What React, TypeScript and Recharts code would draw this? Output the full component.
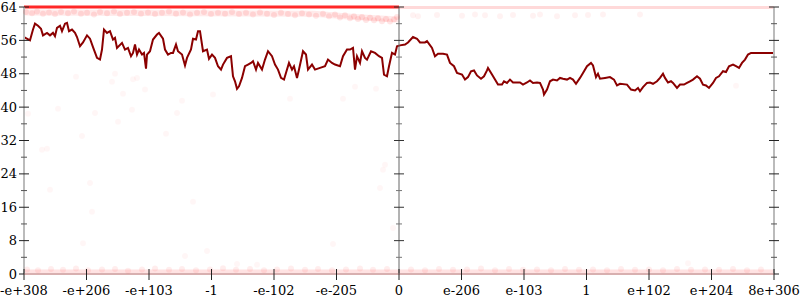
import React from 'react';
import { ComposedChart, Line, Scatter, XAxis, YAxis, ReferenceLine } from 'recharts';

// x positions are measured along the axis: 0 = -e+308, 375 = 0, 750 = 8e+306
const xLabels = ['-e+308', '-e+206', '-e+103', '-1', '-e-102', '-e-205', '0',
  'e-206', 'e-103', '1', 'e+102', 'e+204', '8e+306'];
const xTicks = xLabels.map((_, i) => i * 62.5);
const yLabelTicks = [0, 8, 16, 24, 32, 40, 48, 56, 64];
const yAllTicks = [0, 4, 8, 12, 16, 20, 24, 28, 32, 36, 40, 44, 48, 52, 56, 60, 64];

// moving average, negative half
const trendNeg: [number, number][] = [
  [0, 56.8], [6, 56.0], [9, 58.6], [11, 60.0], [14, 59.5], [17, 58.8], [19, 57.2], [23, 57.8],
  [26, 57.2], [29, 57.8], [31, 57.0], [33, 59.0], [36, 59.5], [38, 58.2], [41, 60.0], [43, 60.2],
  [45, 58.2], [48, 58.6], [51, 57.8], [53, 56.8], [56, 54.6], [59, 55.5], [63, 57.2], [66, 56.4],
  [69, 54.4], [73, 51.8], [76, 51.4], [78, 53.8], [80, 58.6], [83, 57.8], [86, 58.2], [89, 56.2],
  [91, 56.6], [93, 54.2], [98, 55.4], [101, 53.8], [104, 54.2], [107, 52.2], [109, 53.0], [111, 55.0],
  [113, 52.6], [115, 53.8], [118, 52.6], [120, 53.0], [122, 49.2], [123, 52.6], [126, 53.4], [129, 56.2],
  [133, 57.4], [135, 57.8], [139, 56.4], [141, 53.8], [144, 52.6], [147, 53.0], [149, 53.0], [152, 55.0],
  [154, 53.4], [158, 52.6], [161, 50.0], [163, 51.8], [167, 53.8], [169, 56.4], [172, 56.2], [174, 58.2],
  [176, 58.2], [179, 53.4], [183, 53.8], [185, 51.6], [188, 52.6], [191, 51.8], [194, 49.8], [197, 49.0],
  [199, 50.2], [203, 51.8], [207, 52.2], [209, 47.4], [211, 46.2], [213, 44.4], [215, 45.0], [218, 47.0],
  [221, 49.8], [224, 50.2], [227, 50.6], [229, 51.0], [232, 49.0], [234, 50.6], [238, 49.0], [241, 51.4],
  [244, 53.4], [248, 52.2], [251, 50.2], [254, 49.0], [257, 47.0], [260, 46.6], [263, 49.0], [265, 50.6],
  [268, 49.0], [270, 49.8], [273, 47.0], [275, 49.0], [279, 53.4], [282, 52.6], [284, 49.0], [288, 50.2],
  [291, 49.0], [296, 49.4], [301, 49.8], [304, 51.4], [308, 50.6], [311, 50.2], [316, 49.8], [319, 52.2],
  [323, 53.8], [326, 53.8], [329, 54.2], [331, 49.0], [333, 52.2], [336, 50.6], [338, 53.4], [341, 51.8],
  [343, 51.4], [347, 53.4], [351, 53.0], [355, 52.2], [358, 51.8], [360, 47.8], [363, 47.4], [365, 49.8],
  [368, 53.0], [371, 52.6], [373, 54.6],
];

// moving average, positive half
const trendPos: [number, number][] = [
  [376, 54.8], [381, 55.0], [384, 55.5], [389, 56.8], [393, 56.4], [396, 55.5], [401, 55.5], [403, 55.8],
  [408, 54.2], [411, 52.2], [414, 52.8], [419, 52.8], [423, 52.6], [426, 50.6], [430, 49.8], [433, 48.2],
  [438, 47.8], [441, 46.6], [444, 47.2], [447, 48.6], [450, 48.8], [453, 47.6], [457, 46.8], [460, 47.4],
  [463, 48.8], [464, 49.4], [468, 47.8], [471, 46.6], [474, 45.4], [478, 45.4], [480, 46.2], [483, 45.8],
  [486, 46.6], [489, 45.9], [493, 45.9], [496, 45.9], [499, 45.4], [503, 45.9], [506, 46.4], [509, 45.8],
  [513, 45.9], [516, 45.8], [519, 44.2], [520, 43.0], [523, 44.2], [526, 46.2], [529, 46.6], [533, 46.4],
  [536, 47.0], [539, 46.8], [543, 46.6], [546, 47.0], [549, 46.6], [552, 45.6], [556, 47.0], [559, 48.2],
  [563, 49.8], [567, 50.6], [569, 50.0], [572, 47.2], [574, 48.0], [576, 46.8], [581, 47.0], [586, 47.2],
  [590, 46.6], [593, 45.2], [596, 45.6], [603, 45.4], [607, 44.2], [611, 44.0], [614, 44.6], [616, 43.8],
  [619, 44.8], [623, 45.8], [626, 45.9], [629, 45.6], [633, 46.2], [636, 47.0], [639, 48.0], [641, 47.0],
  [644, 45.9], [647, 46.2], [649, 45.8], [653, 44.6], [656, 45.4], [660, 45.4], [663, 45.8], [666, 46.2],
  [669, 46.6], [673, 47.4], [676, 46.8], [679, 45.4], [682, 45.2], [685, 44.6], [689, 45.8], [692, 47.0],
  [695, 47.4], [699, 48.6], [702, 48.4], [705, 49.8], [709, 50.2], [712, 49.8], [715, 49.4], [718, 50.6],
  [721, 51.4], [724, 52.6], [727, 53.0], [749, 53.0],
];

// dense sample bands (drawn as wide translucent strokes)
const bandTopNeg: [number, number][] = [[0, 64], [375, 64]];
const bandTopPos: [number, number][] = [[375, 63.9], [750, 63.9]];
const bandHazeNeg: [number, number][] = [[0, 62.7], [290, 62.4], [330, 61.6], [375, 61.0]];
const bandBottom: [number, number][] = [[0, 0.6], [750, 0.6]];

// faint samples just under the top on the negative half
const fuzzNeg: [number, number][] = [
  [2, 62.8], [8, 62.5], [13, 62.9], [19, 62.4], [25, 62.7], [31, 62.3], [37, 62.8], [44, 62.5],
  [50, 62.9], [57, 62.4], [63, 62.6], [70, 62.2], [76, 62.8], [83, 62.5], [90, 62.9], [96, 62.3],
  [103, 62.6], [110, 62.8], [117, 62.4], [124, 62.7], [131, 62.3], [138, 62.6], [145, 62.9], [152, 62.4],
  [159, 62.7], [166, 62.2], [173, 62.6], [180, 62.8], [187, 62.3], [194, 62.6], [201, 62.4], [208, 62.8],
  [215, 62.3], [222, 62.6], [229, 62.2], [236, 62.7], [243, 62.4], [250, 62.1], [257, 62.6], [264, 62.3],
  [271, 62.0], [278, 62.5], [285, 62.2], [292, 61.9], [299, 62.4], [305, 61.8], [311, 62.2], [316, 61.5],
  [321, 62.0], [326, 61.3], [330, 61.8], [334, 61.1], [338, 61.6], [342, 60.9], [346, 61.4], [350, 60.8],
  [354, 61.3], [358, 60.6], [362, 61.1], [366, 60.5], [370, 61.0], [373, 61.6],
];

// faint samples near the top on the positive half
const fuzzPos: [number, number][] = [
  [389, 62.0], [394, 61.8], [413, 62.1], [438, 61.9], [451, 62.2], [461, 62.0], [476, 61.8],
  [489, 62.1], [509, 61.9], [516, 62.2], [533, 61.8], [551, 62.0], [564, 62.1], [579, 62.2], [616, 62.2],
];

// faint samples just above zero
const fuzzBottom: [number, number][] = [
  [3, 1.1], [14, 0.9], [27, 1.2], [39, 1.0], [52, 1.3], [64, 0.9], [78, 1.1], [91, 1.2], [104, 0.8],
  [118, 1.1], [131, 1.3], [145, 1.0], [158, 1.2], [172, 0.9], [186, 1.1], [199, 1.4], [212, 1.0],
  [226, 1.2], [240, 0.9], [253, 1.1], [267, 1.3], [281, 1.0], [294, 1.2], [308, 0.9], [322, 1.1],
  [336, 1.3], [349, 1.0], [363, 1.2], [387, 1.1], [401, 0.9], [415, 1.2], [429, 1.0], [443, 1.1],
  [457, 1.3], [471, 0.9], [485, 1.2], [499, 1.0], [513, 1.1], [527, 0.9], [541, 1.2], [555, 1.0],
  [569, 1.1], [583, 0.9], [597, 1.2], [611, 1.0], [625, 1.1], [639, 0.9], [653, 1.2], [667, 1.0],
  [681, 1.1], [695, 1.0], [709, 1.2], [723, 0.9], [737, 1.1],
];

// isolated outliers
const strays: [number, number][] = [
  [4, 38.4], [34, 39.6], [71, 38.6], [108, 39.4], [153, 38.6], [158, 41.5], [94, 36.5], [58, 33.1],
  [142, 33.6], [18, 29.8], [23, 30.0], [66, 21.8], [26, 20.2], [169, 17.3], [68, 14.9], [59, 7.4],
  [52, 47.3], [91, 48.0], [88, 46.1], [109, 46.7], [113, 47.0], [121, 44.2], [99, 43.2], [189, 43.0],
  [266, 42.0], [331, 44.9], [352, 44.4], [319, 42.0], [712, 45.1], [361, 26.2], [359, 25.0],
  [356, 20.6], [369, 11.0], [664, 2.6], [161, 4.3], [183, 5.5], [213, 2.4], [233, 2.2], [309, 7.2],
];

const pts = (a: [number, number][]) => a.map(([x, y]) => ({ x, y }));
const FONT = 'DejaVu Serif';

function dot(opacity: number) {
  return (p: any) => <circle cx={p.cx} cy={p.cy} r={3} fill="#ff0000" fillOpacity={opacity} />;
}

// vertical axis with major/minor ticks crossing it
function axisShape(color: string, width: number, major: string, minor: string) {
  return (p: any) => {
    const x = p.x1;
    const top = Math.min(p.y1, p.y2);
    const bot = Math.max(p.y1, p.y2);
    return (
      <g>
        <line x1={x} x2={x} y1={top} y2={bot} stroke={color} strokeWidth={width} />
        {yAllTicks.map((v) => {
          const y = bot - ((bot - top) * v) / 64;
          const big = v % 8 === 0;
          const h = big ? 5 : 3;
          return (
            <line key={v} x1={x - h} x2={x + h} y1={y} y2={y}
              stroke={big ? major : minor} strokeWidth={1} />
          );
        })}
      </g>
    );
  };
}

function XTick(p: any) {
  const { x, y, payload } = p;
  return (
    <g>
      <line x1={x} x2={x} y1={y - 13} y2={y - 2} stroke="#222" strokeWidth={1} />
      <text x={x} y={y + 13} textAnchor="middle" fontSize={13} fontFamily={FONT} fill="#000">
        {xLabels[Math.round(payload.value / 62.5)]}
      </text>
    </g>
  );
}

export default function App() {
  return (
    <div style={{ position: 'absolute', left: 0, top: 0, background: '#fff' }}>
      <ComposedChart width={800} height={300} margin={{ top: 7, right: 26, bottom: 0, left: 0 }}>
        <XAxis
          dataKey="x" type="number" domain={[0, 750]} ticks={xTicks} interval={0}
          height={26} tickLine={false} axisLine={{ stroke: '#d8b0b0', strokeWidth: 2 }}
          tick={<XTick />}
        />
        <YAxis
          type="number" domain={[0, 64]} ticks={yLabelTicks} width={24} interval={0}
          tickLine={false} axisLine={false} tickMargin={1}
          tick={{ fontSize: 13, fontFamily: FONT, fill: '#000' }}
        />

        <Line data={pts(bandBottom)} dataKey="y" stroke="#ff6060" strokeOpacity={0.18} strokeWidth={4}
          dot={false} isAnimationActive={false} />
        <Line data={pts(bandTopPos)} dataKey="y" stroke="#ff8080" strokeOpacity={0.3} strokeWidth={3}
          dot={false} isAnimationActive={false} />
        <Line data={pts(bandHazeNeg)} dataKey="y" stroke="#ff5050" strokeOpacity={0.12} strokeWidth={6}
          dot={false} isAnimationActive={false} />
        <Line data={pts(bandTopNeg)} dataKey="y" stroke="#ff1010" strokeOpacity={0.9} strokeWidth={3}
          dot={false} isAnimationActive={false} />
        <Scatter data={pts(fuzzNeg)} dataKey="y" shape={dot(0.1)} isAnimationActive={false} />
        <Scatter data={pts(fuzzPos)} dataKey="y" shape={dot(0.05)} isAnimationActive={false} />
        <Scatter data={pts(fuzzBottom)} dataKey="y" shape={dot(0.07)} isAnimationActive={false} />
        <Scatter data={pts(strays)} dataKey="y" shape={dot(0.035)} isAnimationActive={false} />

        <Line data={pts([...trendNeg, ...trendPos])} dataKey="y" type="linear" stroke="#8b0000"
          strokeWidth={2} dot={false} isAnimationActive={false} />

        <ReferenceLine x={0} shape={axisShape('#bbb', 2, '#222', '#555')} />
        <ReferenceLine x={375} shape={axisShape('#666', 1, '#333', '#777')} />
        <ReferenceLine x={750} shape={axisShape('#bbb', 2, '#222', '#555')} />
      </ComposedChart>
    </div>
  );
}
